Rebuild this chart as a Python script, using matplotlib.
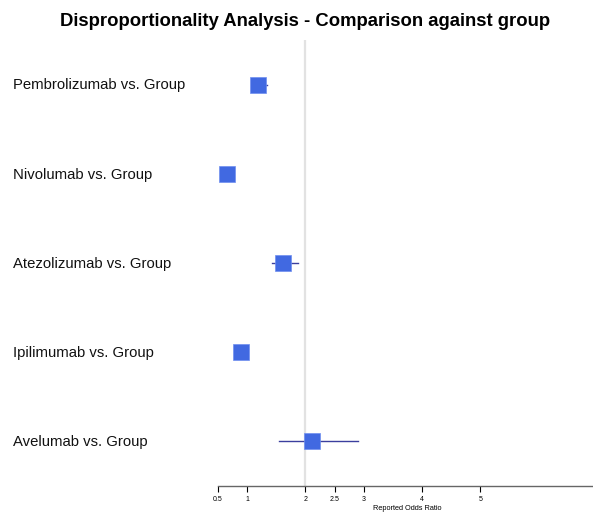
import matplotlib
matplotlib.use("Agg")
import matplotlib.pyplot as plt
import matplotlib.transforms as mtransforms

labels = ["Pembrolizumab vs. Group", "Nivolumab vs. Group", "Atezolizumab vs. Group",
          "Ipilimumab vs. Group", "Avelumab vs. Group"]
ror = [1.19, 0.66, 1.62, 0.89, 2.12]
ci_low = [1.12, 0.62, 1.43, 0.84, 1.55]
ci_high = [1.34, 0.71, 1.87, 0.95, 2.90]
xticks = [0.5, 1, 2, 2.5, 3, 4, 5]
xticklabels = ["0.5", "1", "2", "2.5", "3", "4", "5"]
ref_value = 2

W, H = 593, 512
fig = plt.figure(figsize=(W / 100, H / 100), dpi=100)
left, right = 218 / W, 1.0
top, bottom = 1 - 40 / H, 1 - 486 / H
ax = fig.add_axes([left, bottom, right - left, top - bottom])

n = len(labels)
ypos = list(range(n, 0, -1))

ax.axvline(ref_value, color="#e2e2e2", lw=1.6, zorder=0)
for y, lo, hi in zip(ypos, ci_low, ci_high):
    ax.plot([lo, hi], [y, y], color="#3b3f9e", lw=1.0, zorder=2)
ax.plot(ror, ypos, linestyle="none", marker="s", markersize=11.3,
        markerfacecolor="#4169E1", markeredgecolor="#6f8ff0", markeredgewidth=0.5, zorder=3)

ax.set_xlim(0.5, 1 + (W - 246) / 58.5)
ax.set_ylim(0.5, n + 0.5)
for s in ["top", "right", "left"]:
    ax.spines[s].set_visible(False)
ax.spines["bottom"].set_color("#666666")
ax.spines["bottom"].set_linewidth(1.0)
ax.set_yticks([])
ax.set_xticks(xticks)
ax.set_xticklabels(xticklabels, fontsize=5, family="Liberation Sans")
ax.tick_params(axis="x", length=4, width=0.8, pad=3)
ax.set_xlabel("Reported Odds Ratio", fontsize=5.3, family="Liberation Sans", labelpad=1)
ax.xaxis.set_label_coords((407 - 218) / (W - 218), -0.042)

trans = mtransforms.blended_transform_factory(fig.transFigure, ax.transData)
for y, lab in zip(ypos, labels):
    ax.text(13 / W, y - 0.01, lab, transform=trans, ha="left", va="center",
            fontsize=10.7, family="Liberation Sans", color="#111111")

fig.text(305 / W, 1 - 21 / H, "Disproportionality Analysis - Comparison against group",
         ha="center", va="center", fontsize=13.3, fontweight="bold", family="Liberation Sans")

fig.savefig("out.png", dpi=100)
